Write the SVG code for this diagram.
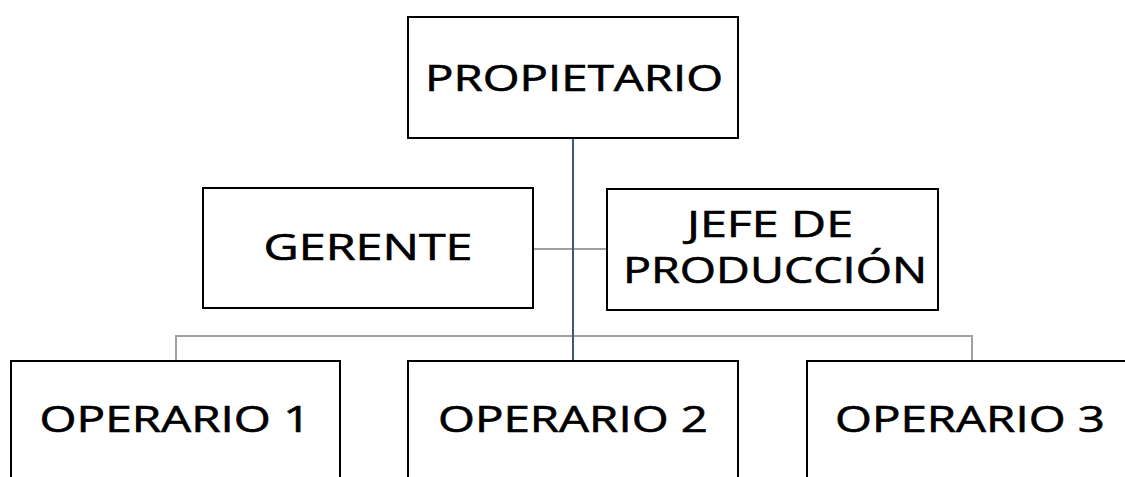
<svg xmlns="http://www.w3.org/2000/svg" width="1125" height="477" viewBox="0 0 1125 477">
<style>
.box{fill:#fff;stroke:#000;stroke-width:2}
.lbl{font-family:"Open Sans","Liberation Sans",sans-serif;font-size:36px;fill:#000;stroke:#000;stroke-width:0.6;text-anchor:middle}
.gray{stroke:#a0a0a0;stroke-width:2;fill:none}
.main{stroke:#3c5878;stroke-width:2;fill:none}
</style>
<rect width="1125" height="477" fill="#fff"/>
<g id="connectors">
<path class="gray" d="M176 361 V336 H972 V361"/>
<path class="gray" d="M533 249 H607"/>
<path class="main" d="M573 138 V361"/>
</g>
<g id="propietario">
<rect class="box" x="408" y="17" width="330" height="121"/>
<text class="lbl" x="574" y="91" textLength="298" lengthAdjust="spacingAndGlyphs">PROPIETARIO</text>
</g>
<g id="gerente">
<rect class="box" x="203" y="188" width="330" height="120"/>
<text class="lbl" x="368" y="260" textLength="209" lengthAdjust="spacingAndGlyphs">GERENTE</text>
</g>
<g id="jefe">
<rect class="box" x="607" y="189" width="331" height="121"/>
<text class="lbl" x="770" y="237" textLength="166" lengthAdjust="spacingAndGlyphs">JEFE DE</text>
<text class="lbl" x="775" y="283" textLength="304" lengthAdjust="spacingAndGlyphs">PRODUCCIÓN</text>
</g>
<g id="operario1">
<rect class="box" x="11" y="361" width="329" height="130"/>
<text class="lbl" x="175" y="432" textLength="271" lengthAdjust="spacingAndGlyphs">OPERARIO 1</text>
</g>
<g id="operario2">
<rect class="box" x="408" y="361" width="330" height="130"/>
<text class="lbl" x="573" y="432" textLength="270" lengthAdjust="spacingAndGlyphs">OPERARIO 2</text>
</g>
<g id="operario3">
<rect class="box" x="807" y="361" width="330" height="130"/>
<text class="lbl" x="970" y="432" textLength="270" lengthAdjust="spacingAndGlyphs">OPERARIO 3</text>
</g>
</svg>
